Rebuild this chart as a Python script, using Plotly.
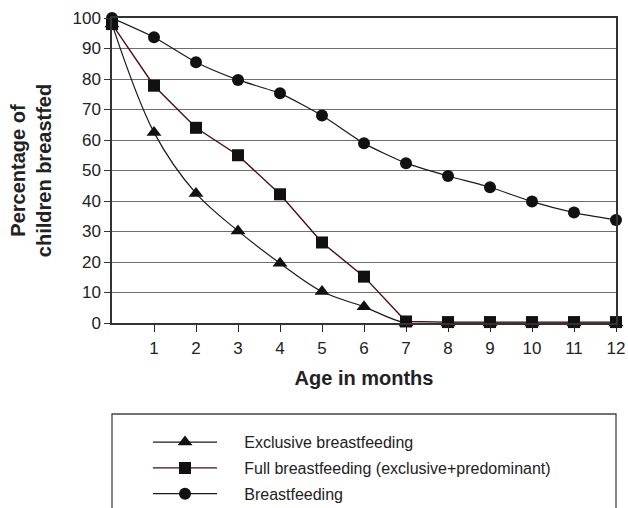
import plotly.graph_objects as go

months = [0, 1, 2, 3, 4, 5, 6, 7, 8, 9, 10, 11, 12]
exclusive = [98, 62.5, 42.5, 30.2, 19.6, 10.3, 5.3, 0, 0, 0, 0, 0, 0]
full = [98, 77.8, 64, 55, 42.2, 26.4, 15.2, 0.5, 0.3, 0.3, 0.3, 0.3, 0.3]
breastfeeding = [100, 93.7, 85.5, 79.7, 75.3, 68, 58.9, 52.4, 48.2, 44.5, 39.8, 36.2, 33.8]

x_ticks = [1, 2, 3, 4, 5, 6, 7, 8, 9, 10, 11, 12]
y_ticks = [0, 10, 20, 30, 40, 50, 60, 70, 80, 90, 100]

FONT = "Liberation Sans, Arial, sans-serif"
PAD = "\u00a0" * 5

fig = go.Figure()
fig.add_trace(go.Scatter(
    x=months, y=exclusive, mode="lines+markers",
    name=PAD + "Exclusive breastfeeding", legendgroup="a",
    line=dict(color="#1a1a1a", width=1.2, shape="spline", smoothing=1.0),
    marker=dict(symbol="triangle-up", size=13, color="#111"),
    cliponaxis=False))
fig.add_trace(go.Scatter(
    x=months, y=full, mode="lines+markers",
    name=PAD + "Full breastfeeding (exclusive+predominant)", legendgroup="b",
    line=dict(color="#4a0d0d", width=1.4),
    marker=dict(symbol="square", size=12, color="#111"),
    cliponaxis=False))
fig.add_trace(go.Scatter(
    x=months, y=breastfeeding, mode="lines+markers",
    name=PAD + "Breastfeeding", legendgroup="c",
    line=dict(color="#1a1a1a", width=1.2, shape="spline", smoothing=0.6),
    marker=dict(symbol="circle", size=12, color="#111"),
    cliponaxis=False))

# legend frame (extends past the page bottom like the reference)
fig.add_shape(type="rect", xref="paper", yref="paper",
              x0=0, x1=1, y0=-0.75, y1=(323 - 414) / 305,
              line=dict(color="#444", width=1.3), fillcolor="rgba(0,0,0,0)")

fig.update_layout(
    width=628, height=508,
    margin=dict(l=112, r=12, t=18, b=185, autoexpand=False),
    paper_bgcolor="white", plot_bgcolor="white",
    font=dict(family=FONT, color="#222", size=17),
    showlegend=True,
    legend=dict(
        x=(148 - 112) / 504, xanchor="left",
        y=-0.335, yanchor="top",
        bgcolor="rgba(0,0,0,0)", borderwidth=0,
        font=dict(family=FONT, size=16, color="#222"),
        tracegroupgap=2, traceorder="grouped", itemwidth=64,
    ),
    xaxis=dict(
        range=[0, 12], tickvals=x_ticks, ticktext=[str(v) for v in x_ticks],
        ticks="outside", ticklen=7, tickcolor="#222", tickwidth=1,
        ticklabelstandoff=2,
        showline=True, linecolor="#333", linewidth=1.5, mirror=True,
        showgrid=False, zeroline=False,
        tickfont=dict(size=17),
        title=dict(text="<b>Age in months</b>", font=dict(size=20, color="#222"), standoff=14),
    ),
    xaxis2=dict(
        range=[0, 12], tickvals=x_ticks, overlaying="x", anchor="y", side="bottom",
        ticks="inside", ticklen=7, tickcolor="#222", tickwidth=1,
        showticklabels=False, showgrid=False, zeroline=False, showline=False,
    ),
    yaxis=dict(
        range=[0, 100], tickvals=y_ticks,
        ticks="outside", ticklen=6, tickcolor="#333", tickwidth=1,
        showline=True, linecolor="#333", linewidth=1.5, mirror=True,
        showgrid=True, gridcolor="#6e6e6e", gridwidth=1.4, zeroline=False,
        tickfont=dict(size=17),
        title=dict(text="<b>Percentage of<br>children breastfed</b>", font=dict(size=20, color="#222"), standoff=15),
    ),
)

fig.write_html(
    "out.html",
    config={"displayModeBar": False},
    post_script="document.body.style.margin='0';document.body.style.overflow='hidden';",
)
